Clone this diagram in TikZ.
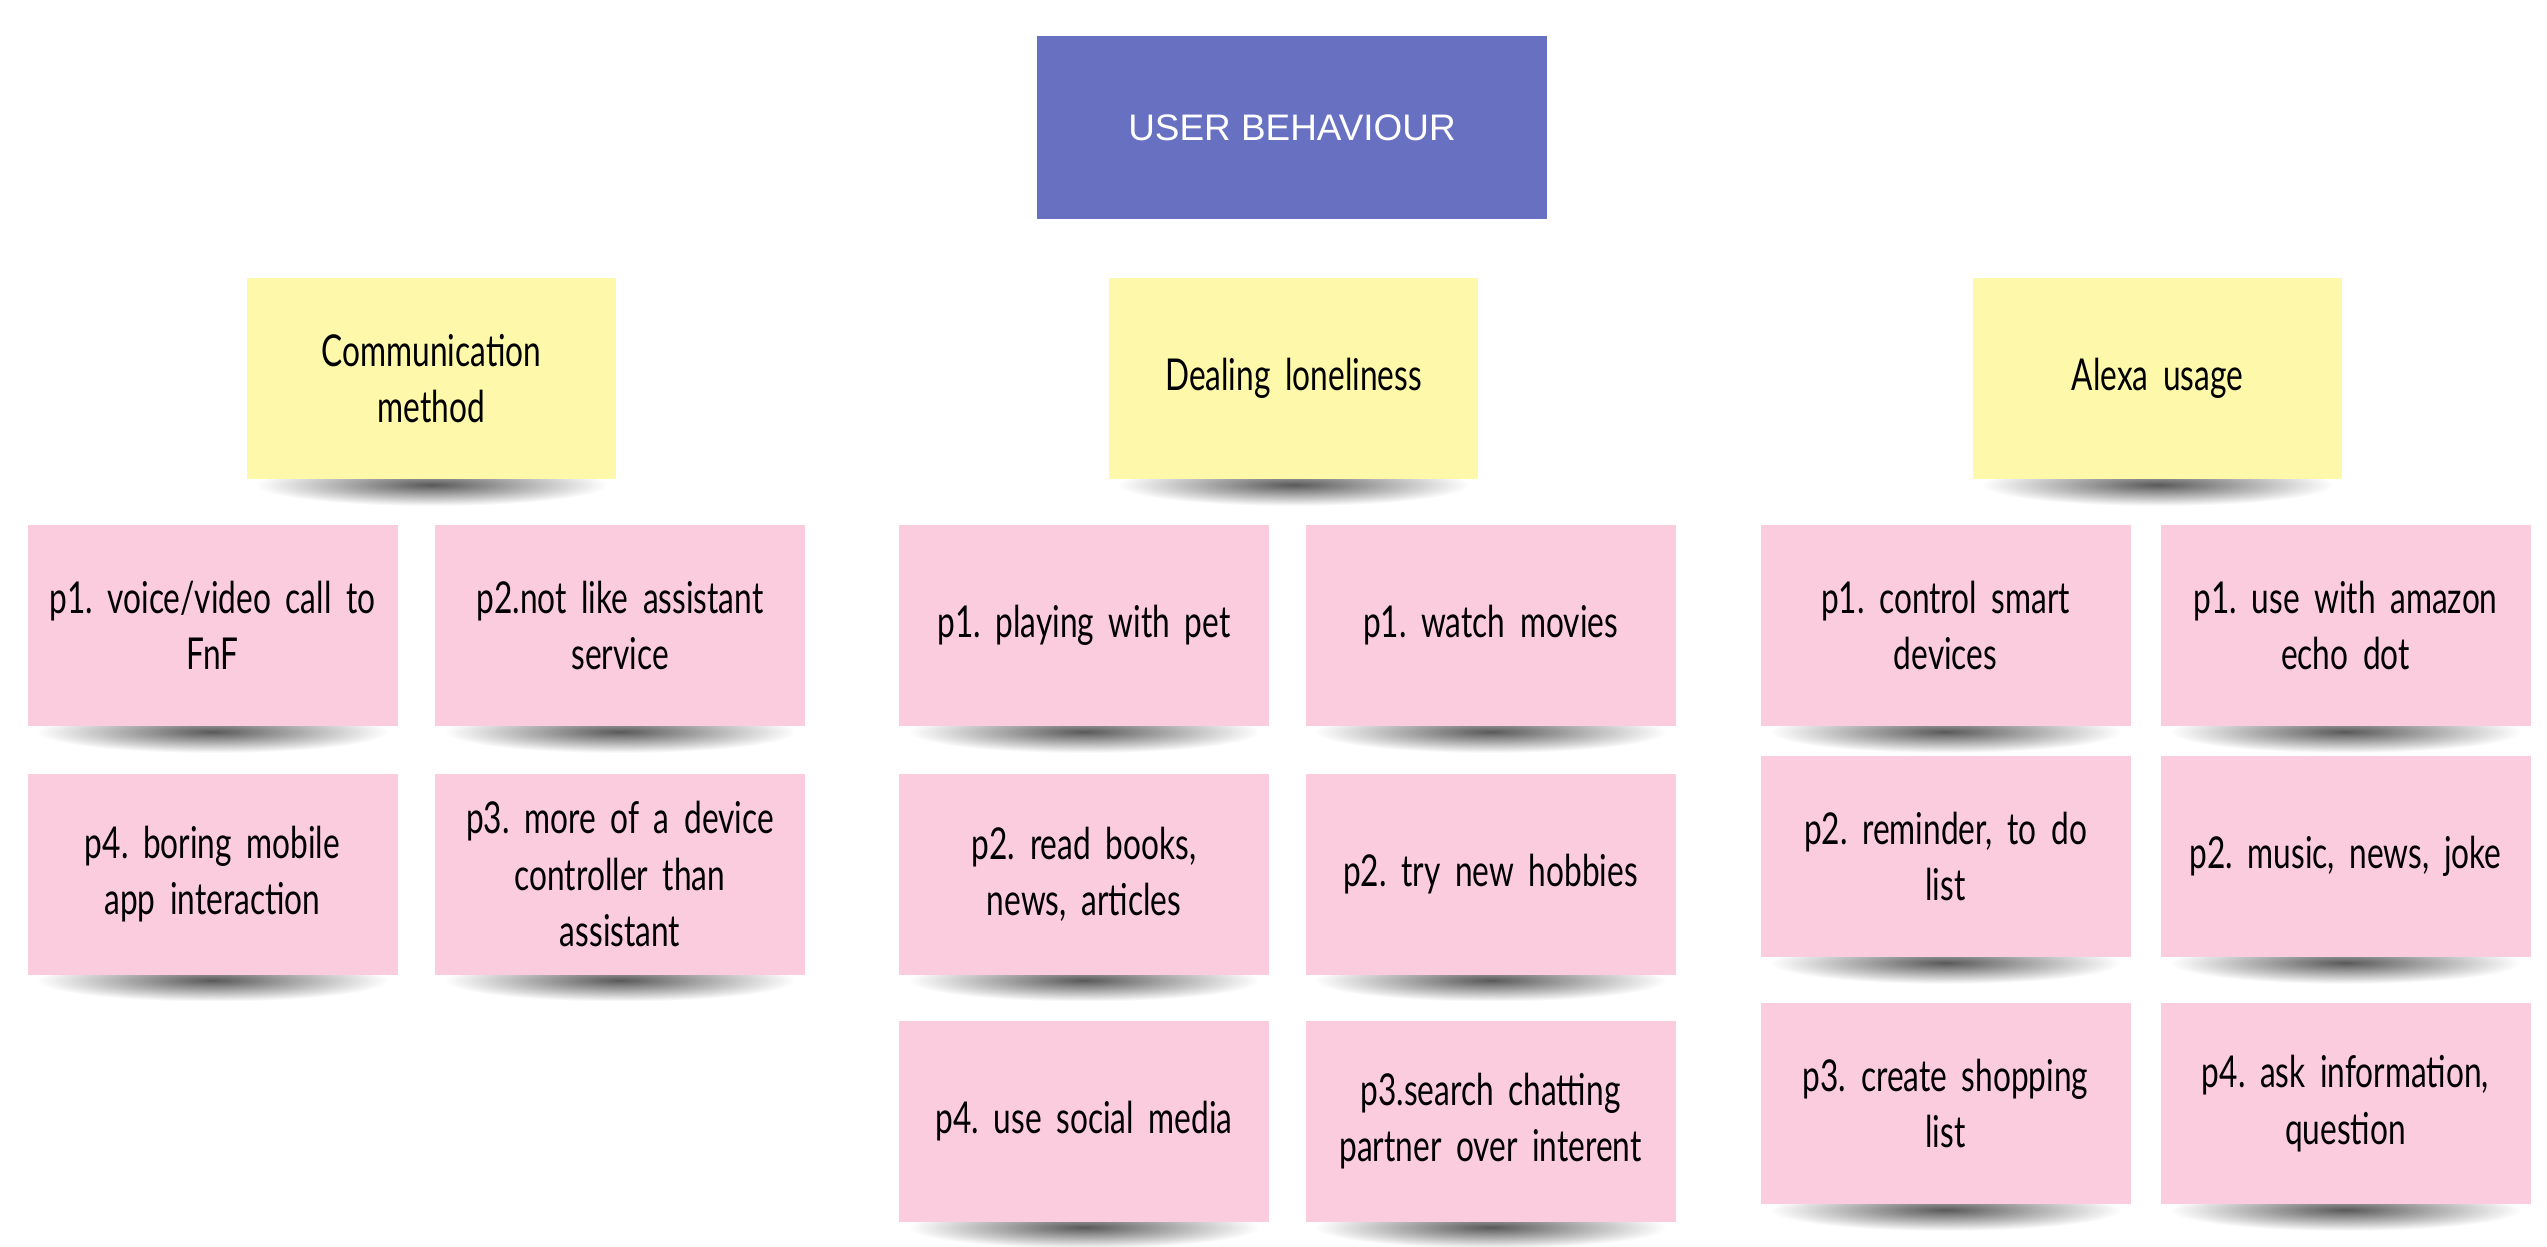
\documentclass[tikz,border=0pt]{standalone}
\usepackage{fontspec}
\setmainfont{Liberation Sans}
\newfontfamily\notefont[FakeStretch=0.72]{Lato}
\usetikzlibrary{fadings,backgrounds}

\definecolor{titleblue}{RGB}{104,113,193}
\definecolor{noteyellow}{RGB}{253,248,170}
\definecolor{notepink}{RGB}{251,203,222}
\tikzfading[name = shadowfade, inner color = transparent!35, outer color = transparent!100]

\begin{document}
\frenchspacing
\begin{tikzpicture}[
  titlebox/.style = {fill = titleblue, minimum width = 5.10cm, minimum height = 1.83cm,
                     text = white, font = \fontsize{10.5}{13}\selectfont},
  note/.style = {minimum width = 3.70cm, minimum height = 2.01cm, text width = 3.6cm,
                 align = center, inner sep = 0pt, font = \notefont\fontsize{12.5}{16}\selectfont},
  topic/.style = {note, fill = noteyellow, minimum width = 3.69cm},
  idea/.style = {note, fill = notepink},
  ]
  \useasboundingbox (0,0) rectangle (25.47,-12.46);
  \node[titlebox] (title) at (12.92,-1.275) {USER BEHAVIOUR};
  % topics
  \node[topic] (comm)   at (4.315,-3.785)  {Communication\\method};
  \node[topic] (lonely) at (12.935,-3.785) {Dealing loneliness};
  \node[topic] (alexa)  at (21.575,-3.785) {Alexa usage};
  % communication method
  \node[idea] (voice)  at (2.125,-6.255) {p1. voice/video call to\\FnF};
  \node[idea] (assist) at (6.20,-6.255)  {p2.not like assistant\\service};
  \node[idea] (boring) at (2.125,-8.74)  {p4. boring mobile\\app interaction};
  \node[idea] (device) at (6.20,-8.74)   {p3. more of a device\\controller than\\assistant};
  % dealing loneliness
  \node[idea] (pet)     at (10.84,-6.255)  {p1. playing with pet};
  \node[idea] (movies)  at (14.905,-6.255) {p1. watch movies};
  \node[idea] (books)   at (10.84,-8.74)   {p2. read books,\\news, articles};
  \node[idea] (hobbies) at (14.905,-8.74)  {p2. try new hobbies};
  \node[idea] (social)  at (10.84,-11.21)  {p4. use social media};
  \node[idea] (chat)    at (14.905,-11.21) {p3.search chatting\\partner over interent};
  % alexa usage
  \node[idea] (smart)  at (19.455,-6.255)  {p1. control smart\\devices};
  \node[idea] (echo)   at (23.455,-6.255)  {p1. use with amazon\\echo dot};
  \node[idea] (remind) at (19.455,-8.565)  {p2. reminder, to do\\list};
  \node[idea] (music)  at (23.455,-8.565)  {p2. music, news, joke};
  \node[idea] (shop)   at (19.455,-11.035) {p3. create shopping\\list};
  \node[idea] (ask)    at (23.455,-11.035) {p4. ask information,\\question};
  % shadows under the notes
  \begin{scope}[on background layer]
    \foreach \n in {comm, lonely, alexa, voice, assist, boring, device, pet, movies,
                    books, hobbies, social, chat, smart, echo, remind, music, shop, ask}
      \fill[black, path fading = shadowfade]
        ([xshift = -1.75cm, yshift = -0.26cm]\n.south) rectangle ([xshift = 1.75cm, yshift = 0.16cm]\n.south);
  \end{scope}
\end{tikzpicture}
\end{document}
